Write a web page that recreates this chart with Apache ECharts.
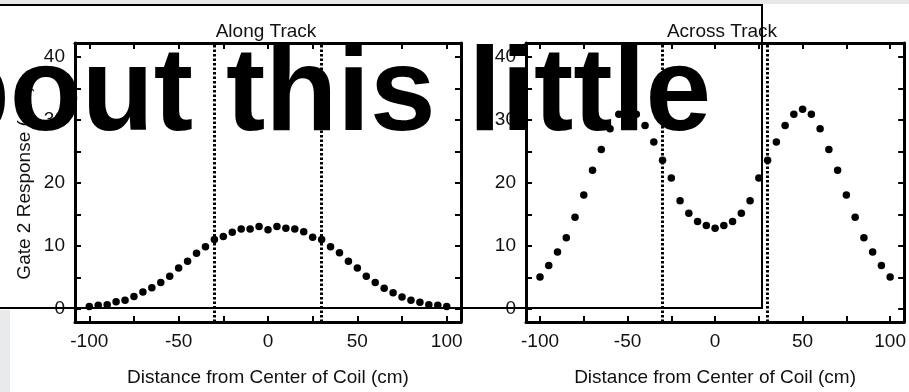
<!DOCTYPE html>
<html>
<head>
<meta charset="utf-8">
<script src="https://cdn.jsdelivr.net/npm/echarts@6/dist/echarts.min.js"></script>
<style>
  html, body { margin: 0; padding: 0; background: #ffffff; }
  #chart { width: 909px; height: 392px; }
</style>
</head>
<body>
<div id="chart"></div>
<script>
// Coil position along the scan (cm)
const positions = [
  -100, -95, -90, -85, -80, -75, -70, -65, -60, -55, -50,
  -45, -40, -35, -30, -25, -20, -15, -10, -5, 0,
  5, 10, 15, 20, 25, 30, 35, 40, 45, 50,
  55, 60, 65, 70, 75, 80, 85, 90, 95, 100
];

// Gate 2 response, along-track scan
const alongTrack = [
  0.4, 0.6, 0.7, 1.15, 1.4, 2.0, 2.7, 3.4, 4.2, 5.2, 6.5,
  7.6, 8.85, 9.9, 11.05, 11.5, 12.2, 12.7, 12.7, 13.1, 12.6,
  13.1, 12.8, 12.7, 12.25, 11.4, 11.05, 9.9, 8.95, 7.6, 6.5,
  5.2, 4.2, 3.3, 2.6, 1.9, 1.4, 1.1, 0.7, 0.6, 0.4
];

// Gate 2 response, across-track scan
const acrossTrack = [
  5.1, 6.9, 9.05, 11.3, 14.55, 18.1, 22.0, 25.3, 28.6, 30.9, 31.8,
  30.9, 29.1, 26.5, 23.6, 20.8, 17.2, 15.2, 13.9, 13.25, 12.8,
  13.25, 13.9, 15.2, 17.2, 20.8, 23.6, 26.5, 29.1, 30.9, 31.7,
  30.9, 28.6, 25.3, 22.0, 18.1, 14.55, 11.3, 9.05, 6.9, 5.1
];

// Coil edges marked with dotted lines
const coilEdges = [-30, 30];

// Axis ticks and labels
const xTickValues = [-100, -75, -50, -25, 0, 25, 50, 75, 100];
const xLabelValues = [-100, -50, 0, 50, 100];
const yTickValues = [0, 5, 10, 15, 20, 25, 30, 35, 40];
const yLabelValues = [0, 10, 20, 30, 40];

const panelTitles = ['Along Track', 'Across Track'];
const xAxisTitle = 'Distance from Center of Coil (cm)';
const yAxisTitle = 'Gate 2 Response (mV)';
const bannerText = 'about this little';

const FONT = '"Liberation Sans", Arial, Helvetica, sans-serif';
const INK = '#111111';

const panels = [
  { values: alongTrack, left: 75, titleX: 261, showYName: true },
  { values: acrossTrack, left: 526, titleX: 717, showYName: false }
];

const grid = [];
const xAxis = [];
const yAxis = [];
const series = [];
const title = [];

panels.forEach((p, i) => {
  grid.push({ left: p.left, top: 43, width: 386, height: 281 });

  title.push({
    text: panelTitles[i],
    left: p.titleX,
    top: 17,
    textAlign: 'center',
    textStyle: { fontFamily: FONT, fontSize: 19, fontWeight: 'normal', color: INK }
  });

  const frameLine = { show: true, onZero: false, lineStyle: { color: '#000', width: 3 } };
  const xBase = {
    type: 'value', gridIndex: i, min: -108, max: 108,
    axisLine: frameLine,
    axisTick: { show: true, inside: true, length: 6, customValues: xTickValues,
                lineStyle: { color: '#000', width: 2 } },
    splitLine: { show: false }
  };
  xAxis.push(Object.assign({}, xBase, {
    position: 'bottom',
    name: xAxisTitle,
    nameLocation: 'middle',
    nameGap: 46,
    nameTextStyle: { fontFamily: FONT, fontSize: 19, color: INK },
    axisLabel: { show: true, customValues: xLabelValues, margin: 10,
                 fontFamily: FONT, fontSize: 19, color: INK }
  }));
  xAxis.push(Object.assign({}, xBase, {
    position: 'top',
    axisLabel: { show: false }
  }));

  const yBase = {
    type: 'value', gridIndex: i, min: -2.05, max: 42.2,
    axisLine: frameLine,
    axisTick: { show: true, inside: true, length: 6, customValues: yTickValues,
                lineStyle: { color: '#000', width: 2 } },
    splitLine: { show: false }
  };
  yAxis.push(Object.assign({}, yBase, {
    position: 'left',
    name: p.showYName ? yAxisTitle : '',
    nameLocation: 'middle',
    nameGap: 41,
    nameTextStyle: { fontFamily: FONT, fontSize: 19, color: INK },
    axisLabel: { show: true, customValues: yLabelValues, margin: 10,
                 fontFamily: FONT, fontSize: 19, color: INK }
  }));
  yAxis.push(Object.assign({}, yBase, {
    position: 'right',
    axisLabel: { show: false }
  }));

  series.push({
    type: 'scatter',
    xAxisIndex: i * 2,
    yAxisIndex: i * 2,
    symbol: 'circle',
    symbolSize: 7.5,
    itemStyle: { color: '#000', opacity: 1 },
    data: positions.map((x, k) => [x, p.values[k]]),
    markLine: {
      silent: true,
      symbol: 'none',
      label: { show: false },
      lineStyle: { color: '#000', width: 3, type: [2.5, 2], opacity: 1 },
      data: coilEdges.map(v => ({ xAxis: v }))
    },
    z: 3
  });
});

const chart = echarts.init(document.getElementById('chart'), null, { renderer: 'canvas' });
chart.setOption({
  animation: false,
  backgroundColor: '#ffffff',
  title,
  grid,
  xAxis,
  yAxis,
  series,
  graphic: [
    { type: 'rect', z: 1, shape: { x: 0, y: 0, width: 909, height: 4 },
      style: { fill: '#e6e8e9' } },
    { type: 'rect', z: 1, shape: { x: 0, y: 310, width: 10, height: 82 },
      style: { fill: '#e8eaeb' } },
    { type: 'rect', z: 100, shape: { x: -5, y: 5, width: 767, height: 303 },
      style: { fill: 'none', stroke: '#000', lineWidth: 2 } },
    { type: 'text', z: 101, x: -128, y: 97,
      style: { text: bannerText, font: 'bold 118px ' + FONT, fill: '#000',
               verticalAlign: 'middle', align: 'left' } }
  ]
});
</script>
</body>
</html>
